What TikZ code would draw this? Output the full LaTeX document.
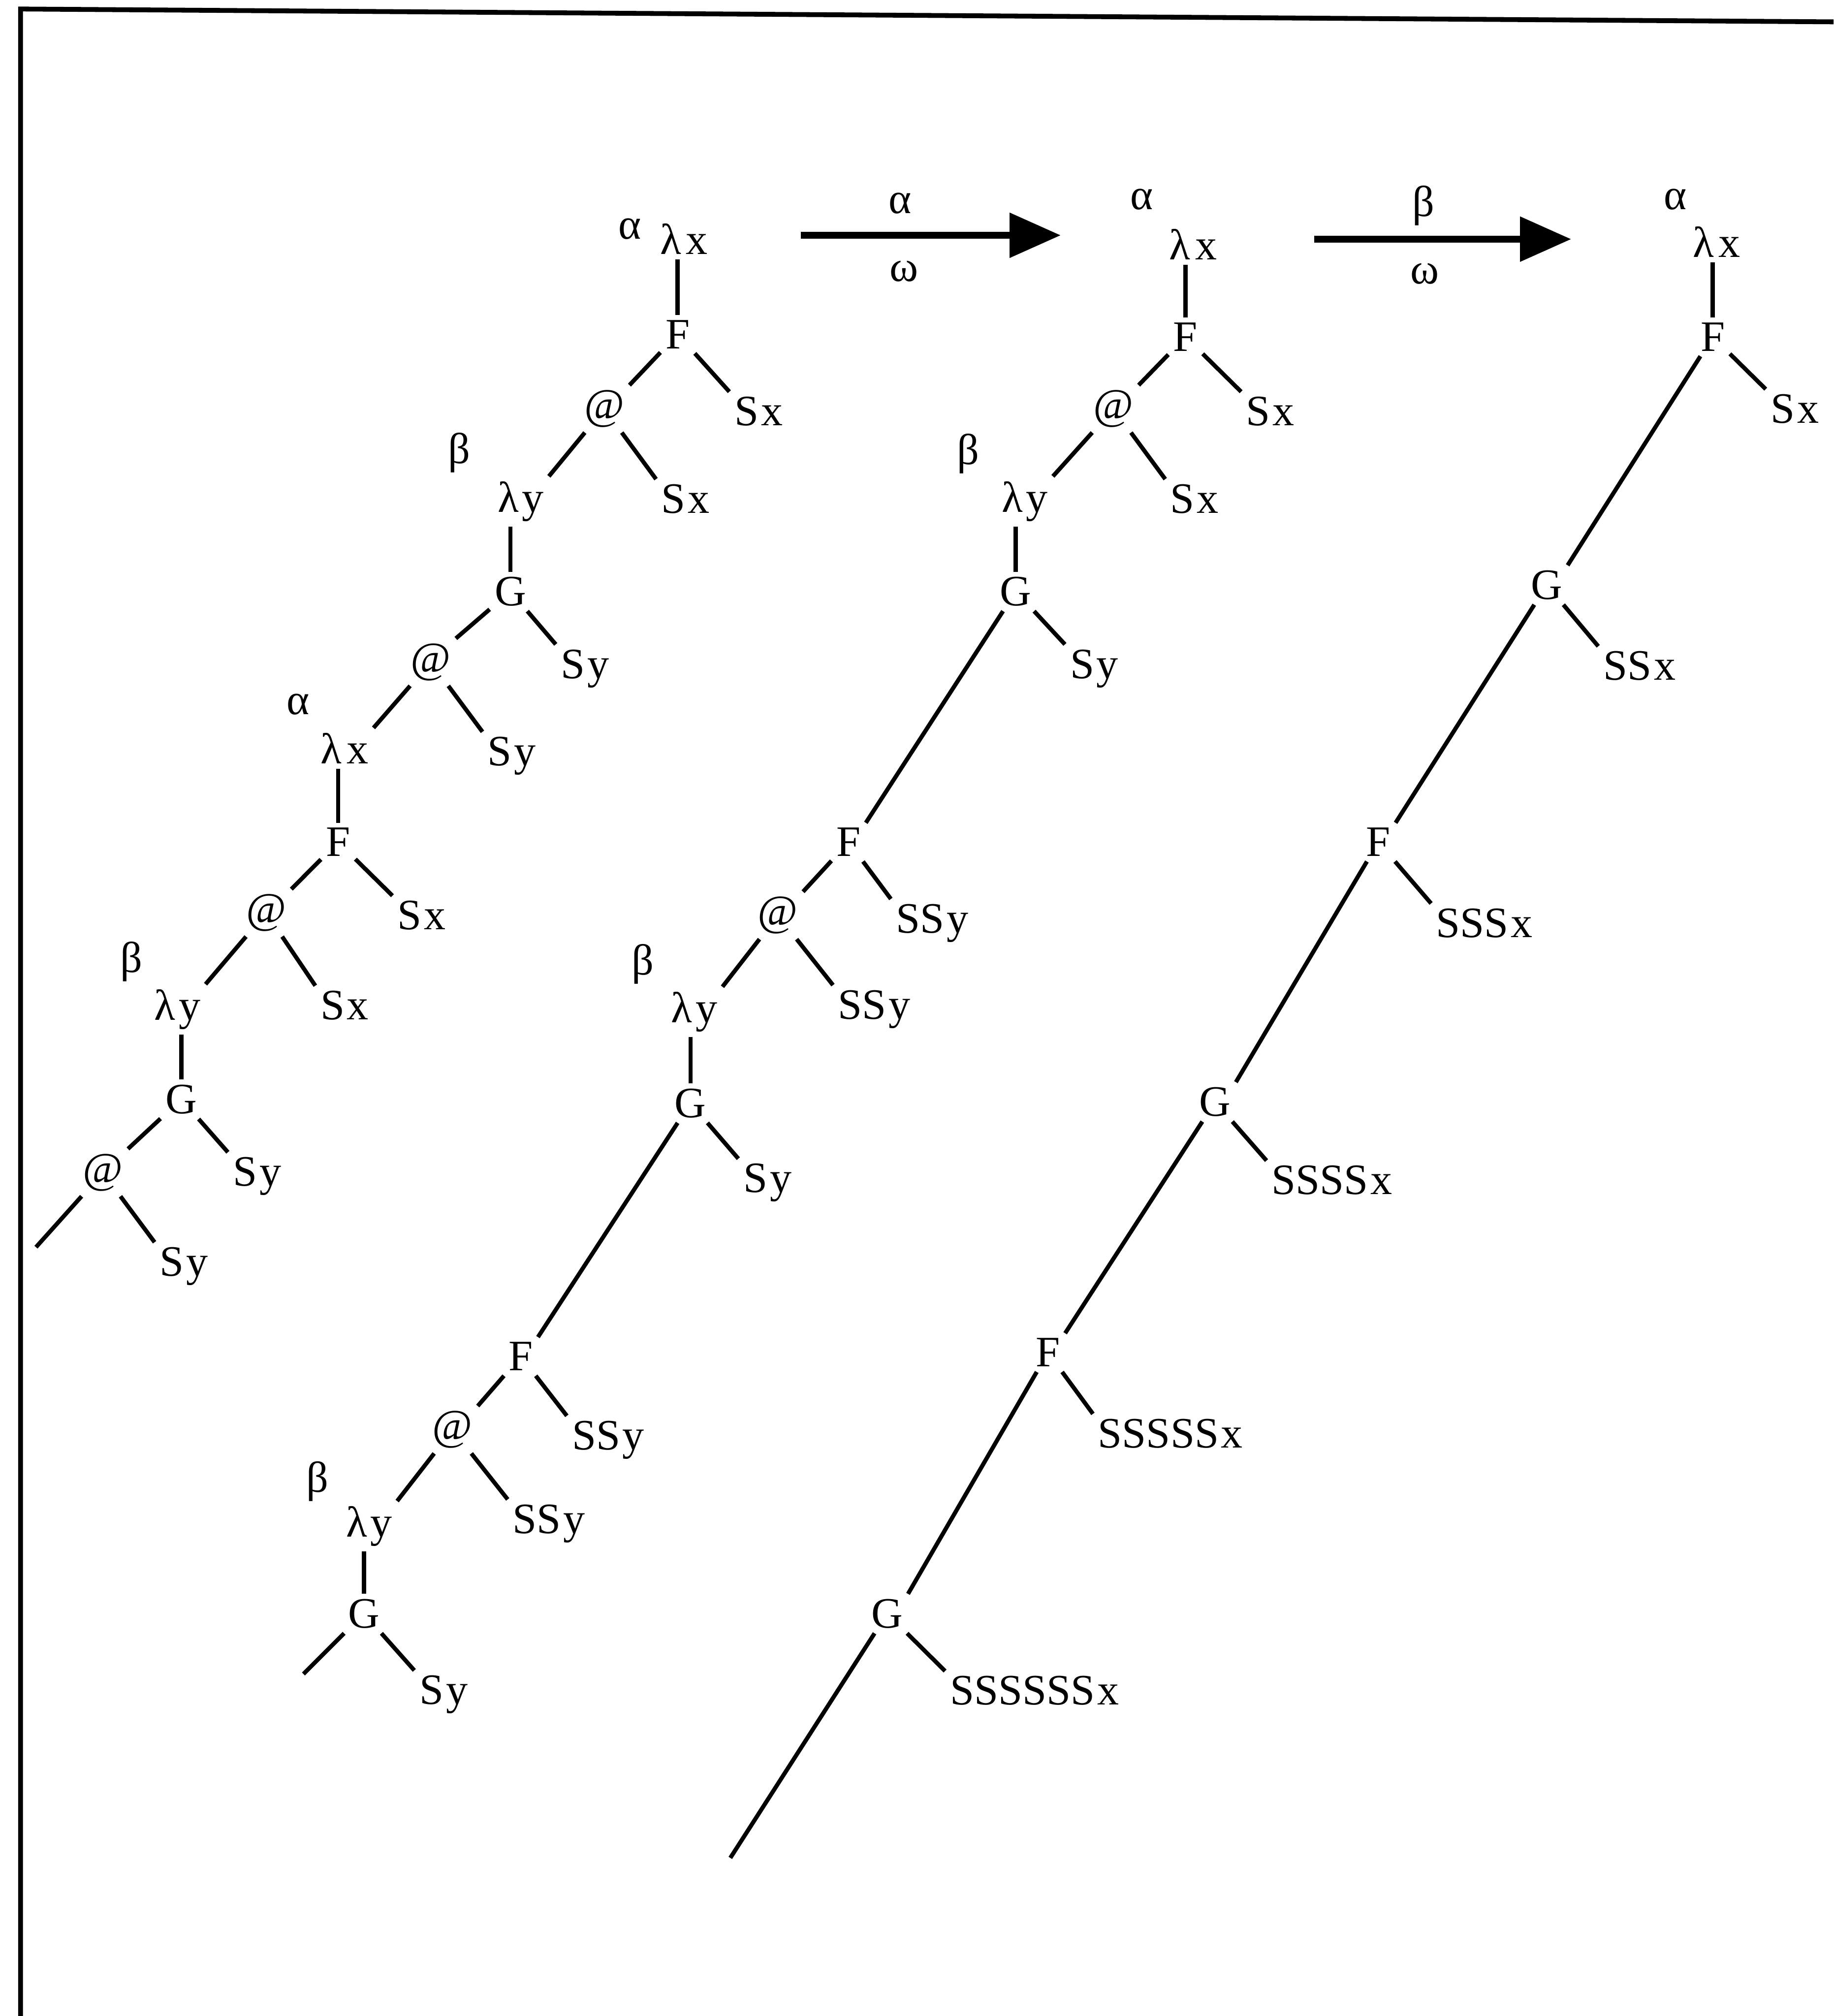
\documentclass[tikz,border=0pt]{standalone}
\usepackage{fontspec}
\setmainfont{Liberation Serif}
\usetikzlibrary{arrows.meta}
\newcommand{\lx}{λ\kern3pt x}
\newcommand{\ly}{λ\kern2pt y}
\newcommand{\sk}{\kern1.5pt}
\begin{document}
\begin{tikzpicture}[x=0.02811cm,y=-0.02811cm,
  lab/.style={inner sep=3pt, font=\fontsize{27}{32}\selectfont},
  edge/.style={line width=2.6pt},
  bigarrow/.style={line width=4.5pt, -{Triangle[length=1.12cm,width=0.95cm]}},
  frameline/.style={line width=3pt}]
\useasboundingbox (0,0) rectangle (1426,1568);
\draw[frameline] (16,1568) -- (16,7) -- (1426,17);

% ---------- tree 1 ----------
\node[lab] (t1a) at (490,178) {α};
\node[lab] (t1lx) at (532,186) {\lx};
\node[lab] (t1F) at (527,260) {F};
\node[lab] (t1Sx) at (590,320) {S\sk x};
\node[lab] (t1at) at (470,318) {@};
\node[lab] (t1Sxb) at (533,388) {S\sk x};
\node[lab] (t1b) at (357,352) {β};
\node[lab] (t1ly) at (405,390) {\ly};
\node[lab] (t1G) at (397,460) {G};
\node[lab] (t1Sy) at (455,520) {S\sk y};
\node[lab] (t1atb) at (335,515) {@};
\node[lab] (t1Syb) at (398,588) {S\sk y};
\node[lab] (t1ab) at (232,548) {α};
\node[lab] (t1lxb) at (268,582) {\lx};
\node[lab] (t1Fb) at (263,655) {F};
\node[lab] (t1Sxc) at (328,712) {S\sk x};
\node[lab] (t1atc) at (207,710) {@};
\node[lab] (t1Sxd) at (268,782) {S\sk x};
\node[lab] (t1bb) at (102,748) {β};
\node[lab] (t1lyb) at (138,785) {\ly};
\node[lab] (t1Gb) at (141,855) {G};
\node[lab] (t1Syc) at (200,915) {S\sk y};
\node[lab] (t1atd) at (80,912) {@};
\node[lab] (t1Syd) at (143,985) {S\sk y};
\coordinate (t1end) at (28,970);

\draw[edge] (t1lx.south -| t1F) -- (t1F);
\draw[edge] (t1F) -- (t1at.north east);
\draw[edge] (t1F) -- (t1Sx.north west);
\draw[edge] (t1at) -- (t1ly.north east);
\draw[edge] (t1at) -- (t1Sxb.north west);
\draw[edge] (t1ly.south -| t1G) -- (t1G);
\draw[edge] (t1G) -- (t1atb.north east);
\draw[edge] (t1G) -- (t1Sy.north west);
\draw[edge] (t1atb) -- (t1lxb.north east);
\draw[edge] (t1atb) -- (t1Syb.north west);
\draw[edge] (t1lxb.south -| t1Fb) -- (t1Fb);
\draw[edge] (t1Fb) -- (t1atc.north east);
\draw[edge] (t1Fb) -- (t1Sxc.north west);
\draw[edge] (t1atc) -- (t1lyb.north east);
\draw[edge] (t1atc) -- (t1Sxd.north west);
\draw[edge] (t1lyb.south -| t1Gb) -- (t1Gb);
\draw[edge] (t1Gb) -- (t1atd.north east);
\draw[edge] (t1Gb) -- (t1Syc.north west);
\draw[edge] (t1atd) -- (t1end);
\draw[edge] (t1atd) -- (t1Syd.north west);

% ---------- arrow 1 ----------
\node[lab] (ar1a) at (700,158) {α};
\node[lab] (ar1w) at (703,211) {ω};
\coordinate (ar1s) at (623,183);
\coordinate (ar1e) at (825,183);
\draw[bigarrow] (ar1s) -- (ar1e);

% ---------- tree 2 ----------
\node[lab] (t2a) at (888,155) {α};
\node[lab] (t2lx) at (928,190) {\lx};
\node[lab] (t2F) at (922,262) {F};
\node[lab] (t2Sx) at (988,320) {S\sk x};
\node[lab] (t2at) at (866,318) {@};
\node[lab] (t2Sxb) at (929,388) {S\sk x};
\node[lab] (t2b) at (753,353) {β};
\node[lab] (t2ly) at (797,390) {\ly};
\node[lab] (t2G) at (790,460) {G};
\node[lab] (t2Sy) at (851,520) {S\sk y};
\node[lab] (t2F2) at (660,655) {F};
\node[lab] (t2SSy) at (725,718) {SS\sk y};
\node[lab] (t2at2) at (605,712) {@};
\node[lab] (t2SSyb) at (680,785) {SS\sk y};
\node[lab] (t2b2) at (500,750) {β};
\node[lab] (t2ly2) at (540,787) {\ly};
\node[lab] (t2G2) at (537,858) {G};
\node[lab] (t2Sy2) at (597,920) {S\sk y};
\node[lab] (t2F3) at (405,1055) {F};
\node[lab] (t2SSyc) at (473,1120) {SS\sk y};
\node[lab] (t2at3) at (352,1112) {@};
\node[lab] (t2SSyd) at (427,1185) {SS\sk y};
\node[lab] (t2b3) at (247,1152) {β};
\node[lab] (t2ly3) at (287,1187) {\ly};
\node[lab] (t2G3) at (283,1255) {G};
\node[lab] (t2Sy3) at (345,1318) {S\sk y};
\coordinate (t2end) at (236,1302);

\draw[edge] (t2lx.south -| t2F) -- (t2F);
\draw[edge] (t2F) -- (t2at.north east);
\draw[edge] (t2F) -- (t2Sx.north west);
\draw[edge] (t2at) -- (t2ly.north east);
\draw[edge] (t2at) -- (t2Sxb.north west);
\draw[edge] (t2ly.south -| t2G) -- (t2G);
\draw[edge] (t2G) -- (t2Sy.north west);
\draw[edge] (t2G) -- (t2F2.north east);
\draw[edge] (t2F2) -- (t2at2.north east);
\draw[edge] (t2F2) -- (t2SSy.north west);
\draw[edge] (t2at2) -- (t2ly2.north east);
\draw[edge] (t2at2) -- (t2SSyb.north west);
\draw[edge] (t2ly2.south -| t2G2) -- (t2G2);
\draw[edge] (t2G2) -- (t2Sy2.north west);
\draw[edge] (t2G2) -- (t2F3.north east);
\draw[edge] (t2F3) -- (t2at3.north east);
\draw[edge] (t2F3) -- (t2SSyc.north west);
\draw[edge] (t2at3) -- (t2ly3.north east);
\draw[edge] (t2at3) -- (t2SSyd.north west);
\draw[edge] (t2ly3.south -| t2G3) -- (t2G3);
\draw[edge] (t2G3) -- (t2Sy3.north west);
\draw[edge] (t2G3) -- (t2end);

% ---------- arrow 2 ----------
\node[lab] (ar2b) at (1107,160) {β};
\node[lab] (ar2w) at (1108,213) {ω};
\coordinate (ar2s) at (1022,186);
\coordinate (ar2e) at (1222,186);
\draw[bigarrow] (ar2s) -- (ar2e);

% ---------- tree 3 ----------
\node[lab] (t3a) at (1303,155) {α};
\node[lab] (t3lx) at (1335,188) {\lx};
\node[lab] (t3F) at (1332,262) {F};
\node[lab] (t3Sx) at (1396,318) {S\sk x};
\node[lab] (t3G) at (1203,455) {G};
\node[lab,anchor=west] (t3L1) at (1243,518) {SS\sk x};
\node[lab] (t3F2) at (1072,655) {F};
\node[lab,anchor=west] (t3L2) at (1113,718) {SSS\sk x};
\node[lab] (t3G2) at (945,857) {G};
\node[lab,anchor=west] (t3L3) at (985,918) {SSSS\sk x};
\node[lab] (t3F3) at (815,1052) {F};
\node[lab,anchor=west] (t3L4) at (850,1115) {SSSSS\sk x};
\node[lab] (t3G3) at (690,1255) {G};
\node[lab,anchor=west] (t3L5) at (735,1315) {SSSSSS\sk x};
\coordinate (t3end) at (568,1445);

\draw[edge] (t3lx.south -| t3F) -- (t3F);
\draw[edge] (t3F) -- (t3Sx.north west);
\draw[edge] (t3F) -- (t3G.north east);
\draw[edge] (t3G) -- (t3L1.north west);
\draw[edge] (t3G) -- (t3F2.north east);
\draw[edge] (t3F2) -- (t3L2.north west);
\draw[edge] (t3F2) -- (t3G2.north east);
\draw[edge] (t3G2) -- (t3L3.north west);
\draw[edge] (t3G2) -- (t3F3.north east);
\draw[edge] (t3F3) -- (t3L4.north west);
\draw[edge] (t3F3) -- (t3G3.north east);
\draw[edge] (t3G3) -- (t3L5.north west);
\draw[edge] (t3G3) -- (t3end);
\end{tikzpicture}
\end{document}
